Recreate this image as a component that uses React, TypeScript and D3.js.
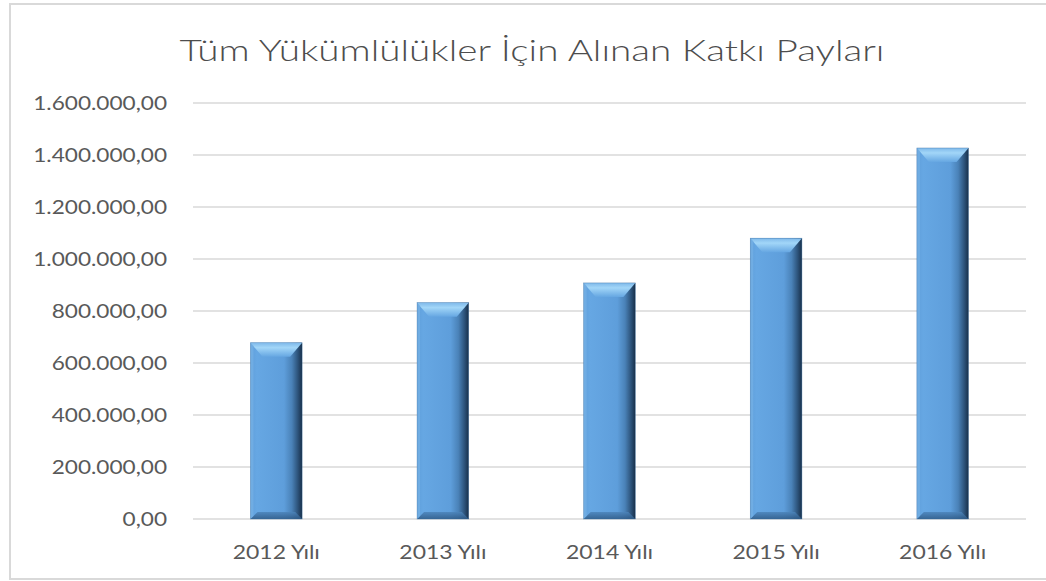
import * as d3 from 'd3';

const years = ['2012 Yılı', '2013 Yılı', '2014 Yılı', '2015 Yılı', '2016 Yılı'];
const amounts = [678000, 832000, 908000, 1080000, 1427000];
const yTicks = [0, 200000, 400000, 600000, 800000, 1000000, 1200000, 1400000, 1600000];
const title = 'Tüm Yükümlülükler İçin Alınan Katkı Payları';

const W = 1046;
const H = 581;
const margin = { top: 103, right: 20, bottom: 62, left: 193 };

const fmt = (v: number) => {
  const s = d3.format(',.2f')(v);
  // Turkish style: 1.600.000,00
  return s.replace(/,/g, '#').replace('.', ',').replace(/#/g, '.');
};

// the reference text is a little wider than Lato, stretch it horizontally
const Stretch = ({ x, y, sx, anchor, size, weight, fill, children }: any) => (
  <text
    transform={`translate(${x},${y}) scale(${sx},1)`}
    dy="0.35em"
    textAnchor={anchor}
    fontFamily='Lato, "Open Sans", sans-serif'
    fontSize={size}
    fontWeight={weight ?? 400}
    fill={fill ?? '#595959'}
  >
    {children}
  </text>
);

const App = () => {
  const x = d3
    .scaleBand<string>()
    .domain(years)
    .range([margin.left, 1026])
    .paddingInner(0.69)
    .paddingOuter(0.345);
  const y = d3
    .scaleLinear()
    .domain([0, 1600000])
    .range([H - margin.bottom, margin.top]);

  const bw = x.bandwidth();

  return (
    <div style={{ position: 'absolute', left: 0, top: 0 }}>
      <svg width={W} height={H} style={{ display: 'block', background: '#fff' }}>
        <defs>
          <linearGradient id="body" x1="0" y1="0" x2="1" y2="0">
            <stop offset="0" stopColor="#5f9fdb" />
            <stop offset="0.12" stopColor="#66a7e3" />
            <stop offset="0.65" stopColor="#5e9edb" />
            <stop offset="0.8" stopColor="#4a82b8" />
            <stop offset="0.92" stopColor="#2c5279" />
            <stop offset="1" stopColor="#18304a" />
          </linearGradient>
          <linearGradient id="topBevel" x1="0" y1="0" x2="0" y2="1">
            <stop offset="0" stopColor="#7fb9ea" />
            <stop offset="0.35" stopColor="#a2d6f8" />
            <stop offset="1" stopColor="#66a7e2" />
          </linearGradient>
          <linearGradient id="botBevel" x1="0" y1="0" x2="0" y2="1">
            <stop offset="0" stopColor="#4c84ba" />
            <stop offset="1" stopColor="#2f5a86" />
          </linearGradient>
        </defs>

        {/* frame */}
        <rect x={10} y={4} width={W + 10} height={575} fill="none" stroke="#d9d9d9" strokeWidth={2} />

        <Stretch x={532} y={50} sx={1.29} anchor="middle" size={30} weight={300} fill="#4d4d4d">
          {title}
        </Stretch>

        {/* grid + y labels */}
        {yTicks.map((t) => (
          <g key={t}>
            <line x1={margin.left} x2={1026} y1={y(t)} y2={y(t)} stroke="#d9d9d9" strokeWidth={1.5} />
            <Stretch x={167} y={y(t)} sx={1.19} anchor="end" size={19}>
              {fmt(t)}
            </Stretch>
          </g>
        ))}

        {/* bars */}
        {years.map((yr, i) => {
          const x0 = x(yr)!;
          const x1 = x0 + bw;
          const top = y(amounts[i]);
          const bot = y(0);
          const tb = 14;
          const bb = 7;
          const sb = 12;
          return (
            <g key={yr}>
              <rect x={x0} y={top} width={bw} height={bot - top} fill="url(#body)" />
              <polygon
                points={`${x0},${top} ${x1},${top} ${x1 - sb},${top + tb} ${x0 + sb},${top + tb}`}
                fill="url(#topBevel)"
              />
              <polygon
                points={`${x0},${bot} ${x1},${bot} ${x1 - bb},${bot - bb} ${x0 + bb},${bot - bb}`}
                fill="url(#botBevel)"
                opacity={0.85}
              />
              <polygon
                points={`${x0},${top} ${x0 + 3},${top + 3} ${x0 + 3},${bot - 3} ${x0},${bot}`}
                fill="#7ab4e6"
                opacity={0.6}
              />
              <rect x={x0} y={top} width={bw} height={bot - top} fill="none" stroke="#3a6fa3" strokeWidth={0.6} opacity={0.6} />
            </g>
          );
        })}

        {/* x labels */}
        {years.map((yr) => (
          <Stretch key={yr} x={x(yr)! + bw / 2} y={552} sx={1.21} anchor="middle" size={19}>
            {yr}
          </Stretch>
        ))}
      </svg>
    </div>
  );
};

export default App;
